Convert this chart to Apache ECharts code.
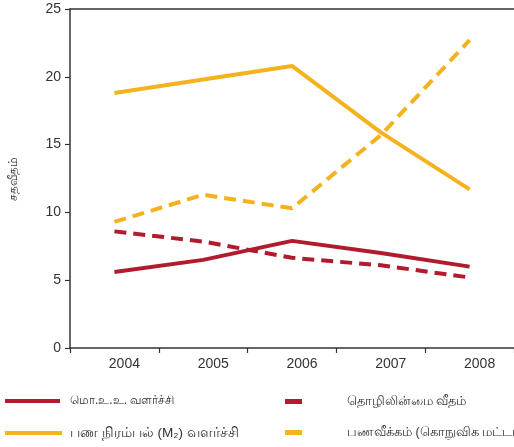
<!DOCTYPE html>
<html>
<head>
<meta charset="utf-8">
<script src="https://cdn.jsdelivr.net/npm/echarts@6/dist/echarts.min.js"></script>
<style>
html,body{margin:0;padding:0;background:#fff;}
#c{width:514px;height:447px;}
</style>
</head>
<body>
<div id="c"></div>
<script>
var years = ['2004','2005','2006','2007','2008'];
var yTicks = [0,5,10,15,20,25];
var gdpGrowth = [5.6, 6.5, 7.9, 7.0, 6.0];
var unemployment = [8.6, 7.85, 6.65, 6.1, 5.2];
var m2Growth = [18.8, 19.8, 20.8, 15.9, 11.7];
var inflation = [9.3, 11.3, 10.3, 15.7, 22.7];
var names = ['மொ.உ.உ. வளர்ச்சி', 'தொழிலின்மை வீதம்', 'பண நிரம்பல் (M₂) வளர்ச்சி', 'பணவீக்கம் (கொநுவிக மட்டம்)'];
var yName = 'சதவீதம்';

var RED = '#b01c2e', ORANGE = '#f4b31e';
var font = "'Liberation Sans', 'DejaVu Sans', sans-serif";

var chart = echarts.init(document.getElementById('c'));
function legendBox(name, left, top, w, h, gap, fs) {
  return {
    data: [{name: name, icon: 'rect'}],
    left: left, top: top, padding: 0,
    itemWidth: w, itemHeight: h, orient: 'horizontal',
    selectedMode: false,
    itemStyle: {borderWidth: 0},
    lineStyle: {width: 0},
    textStyle: {fontSize: fs, color: '#333', fontFamily: font, padding: [0,0,0,gap]}
  };
}
chart.setOption({
  animation: false,
  backgroundColor: '#fff',
  grid: {left: 67, right: -10, top: 9, bottom: 99, containLabel: false},
  legend: [
    legendBox(names[0], 5, 395, 55, 4, 5, 12),
    legendBox(names[1], 285, 395, 17, 5, 40, 12.5),
    legendBox(names[2], 5, 426, 57, 4, 3, 13.5),
    legendBox(names[3], 285, 426, 17, 5, 40, 12.5)
  ],
  xAxis: [{
    type: 'category', data: years, boundaryGap: true,
    axisLine: {lineStyle: {color: '#333', width: 1.5}},
    axisTick: {show: true, length: 5, inside: false, lineStyle: {color: '#333', width: 1.2}},
    axisLabel: {fontSize: 14, color: '#333', fontFamily: font, margin: 9, padding: [0,0,0,20]},
    splitLine: {show: false}
  }, {
    type: 'category', data: years, position: 'top', boundaryGap: true,
    axisLine: {lineStyle: {color: '#333', width: 1.5}},
    axisTick: {show: false}, axisLabel: {show: false}
  }],
  yAxis: {
    type: 'value', min: yTicks[0], max: yTicks[yTicks.length-1], interval: 5,
    name: yName, nameLocation: 'middle', nameGap: 50, nameRotate: 90,
    nameTextStyle: {fontSize: 12, color: '#333', fontFamily: font},
    axisLine: {show: true, lineStyle: {color: '#333', width: 1.5}},
    axisTick: {show: true, length: 5, lineStyle: {color: '#333', width: 1.2}},
    axisLabel: {fontSize: 14, color: '#333', fontFamily: font, margin: 9},
    splitLine: {show: false}
  },
  series: [
    {name: names[0], type: 'line', data: gdpGrowth, symbol: 'none', color: RED,
     lineStyle: {color: RED, width: 4}},
    {name: names[1], type: 'line', data: unemployment, symbol: 'none', color: RED,
     lineStyle: {color: RED, width: 4, type: [12, 7]}},
    {name: names[2], type: 'line', data: m2Growth, symbol: 'none', color: ORANGE,
     lineStyle: {color: ORANGE, width: 4}},
    {name: names[3], type: 'line', data: inflation, symbol: 'none', color: ORANGE,
     lineStyle: {color: ORANGE, width: 4, type: [12, 7]}}
  ]
});
</script>
</body>
</html>
